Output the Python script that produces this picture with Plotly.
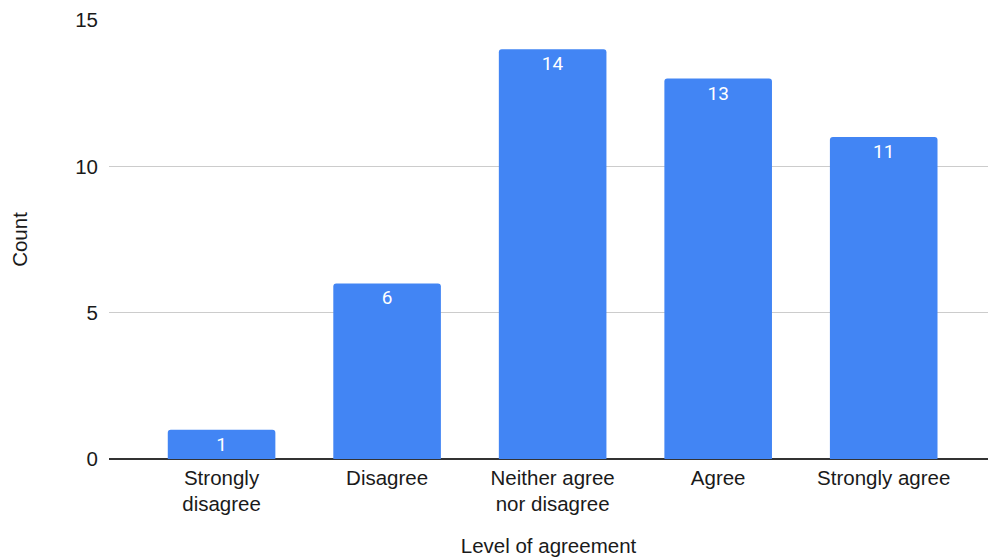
import plotly.graph_objects as go

categories = ["Strongly<br>disagree", "Disagree", "Neither agree<br>nor disagree", "Agree", "Strongly agree"]
counts = [1, 6, 14, 13, 11]
y_ticks = [0, 5, 10, 15]

fig = go.Figure(go.Bar(
    x=list(range(len(categories))),
    y=counts,
    text=[str(c) for c in counts],
    textposition="inside",
    insidetextanchor="end",
    textangle=0,
    textfont=dict(family="Roboto", size=19, color="white"),
    marker=dict(color="#4285F4", cornerradius=3, line=dict(width=0)),
    cliponaxis=False,
))

fig.update_layout(
    width=990, height=559,
    margin=dict(l=109, r=2, t=20, b=100),
    paper_bgcolor="white", plot_bgcolor="white",
    font=dict(family="Arial, Liberation Sans, sans-serif", size=20, color="#222222"),
    bargap=0.35,
    showlegend=False,
    xaxis=dict(
        tickmode="array",
        tickvals=list(range(len(categories))),
        ticktext=categories,
        range=[-0.68, 4.63],
        showgrid=False,
        showline=False,
        zeroline=False,
        ticks="",
        ticklabelstandoff=4,
        tickfont=dict(size=20.5, color="#1a1a1a"),
        title=dict(text="Level of agreement", font=dict(size=20.5, color="#1a1a1a"), standoff=24),
    ),
    yaxis=dict(
        range=[0, 15],
        tickvals=y_ticks,
        showgrid=True,
        gridcolor="#cccccc",
        gridwidth=1,
        zeroline=True,
        zerolinecolor="#333333",
        zerolinewidth=1.5,
        showline=False,
        ticks="",
        ticklabelstandoff=10,
        tickfont=dict(size=20.5, color="#1a1a1a"),
        title=dict(text="Count", font=dict(size=20.5, color="#1a1a1a"), standoff=42),
    ),
)

fig.write_html("out.html")
